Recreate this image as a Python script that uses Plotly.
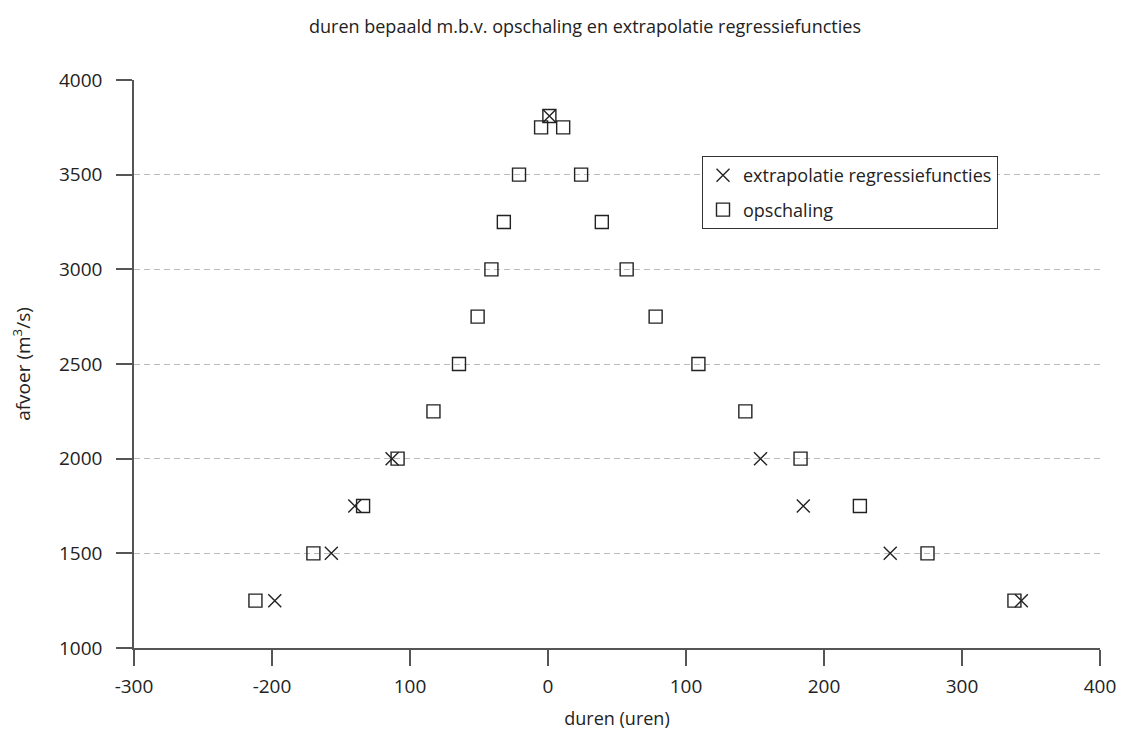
import plotly.graph_objects as go

# opschaling (squares)
opschaling_x = [1, -5, 11, -21, 24, -32, 39, -41, 57, -51, 78, -64.5, 109, -83, 143,
                -109, 183, -134, 226, -170, 275, -212, 338]
opschaling_y = [3810, 3750, 3750, 3500, 3500, 3250, 3250, 3000, 3000, 2750, 2750, 2500, 2500,
                2250, 2250, 2000, 2000, 1750, 1750, 1500, 1500, 1250, 1250]

# extrapolatie regressiefuncties (crosses)
extrap_x = [1, -113, -140, -157, -198, 154, 185, 248, 343]
extrap_y = [3810, 2000, 1750, 1500, 1250, 2000, 1750, 1500, 1250]

x_tickvals = [-300, -200, -100, 0, 100, 200, 300, 400]
x_ticktext = ["-300", "-200", "100", "0", "100", "200", "300", "400"]
y_tickvals = [1000, 1500, 2000, 2500, 3000, 3500, 4000]

FONT = "Open Sans"
INK = "#222222"
AX = "#555555"

W, H = 1116, 726
L, T, PW, PH = 126, 72, 966, 568

fig = go.Figure()
fig.add_trace(go.Scatter(
    x=extrap_x, y=extrap_y, mode="markers", name="extrapolatie regressiefuncties",
    legendgroup="a",
    marker=dict(symbol="x-thin-open", size=13, color=INK, line=dict(color=INK, width=1.4)),
))
fig.add_trace(go.Scatter(
    x=opschaling_x, y=opschaling_y, mode="markers", name="opschaling",
    legendgroup="b",
    marker=dict(symbol="square-open", size=13, color=INK, line=dict(color=INK, width=1.4)),
))

fig.update_layout(
    width=W, height=H,
    margin=dict(l=L, r=W - L - PW, t=T, b=H - T - PH, pad=0),
    paper_bgcolor="white", plot_bgcolor="white",
    font=dict(family=FONT, size=18, color=INK),
    title=dict(text="duren bepaald m.b.v. opschaling en extrapolatie regressiefuncties",
               x=577 / W, xref="container", xanchor="center",
               y=1 - 19 / H, yref="container", yanchor="middle",
               font=dict(family=FONT, size=18, color=INK)),
    showlegend=True,
    legend=dict(x=(694 - L) / PW, y=(T + PH - 148) / PH, xanchor="left", yanchor="top",
                bordercolor="#333333", borderwidth=1, bgcolor="white",
                tracegroupgap=8,
                font=dict(family=FONT, size=18, color=INK)),
    xaxis=dict(range=[-300, 400], tickvals=x_tickvals, ticktext=x_ticktext,
               showgrid=False, zeroline=False, showline=True, linecolor=AX, linewidth=1.5,
               ticks="outside", ticklen=16, tickwidth=1.5, tickcolor=AX,
               ticklabelstandoff=4, tickfont=dict(size=19), automargin=False,
               ticklabeloverflow="allow",
               title=dict(text="duren (uren)", standoff=15, font=dict(size=18))),
    yaxis=dict(range=[1000, 4000], tickvals=y_tickvals,
               showgrid=True, gridcolor="#bbbbbb", gridwidth=1, griddash="6px,4px",
               zeroline=False, showline=True, linecolor=AX, linewidth=1.5,
               ticks="outside", ticklen=16, tickwidth=1.5, tickcolor=AX,
               ticklabelstandoff=10, tickfont=dict(size=19), automargin=False,
               title=dict(text="afvoer (m<sup>3</sup>/s)", standoff=31, font=dict(size=19))),
)

fig.write_html("out.html")
